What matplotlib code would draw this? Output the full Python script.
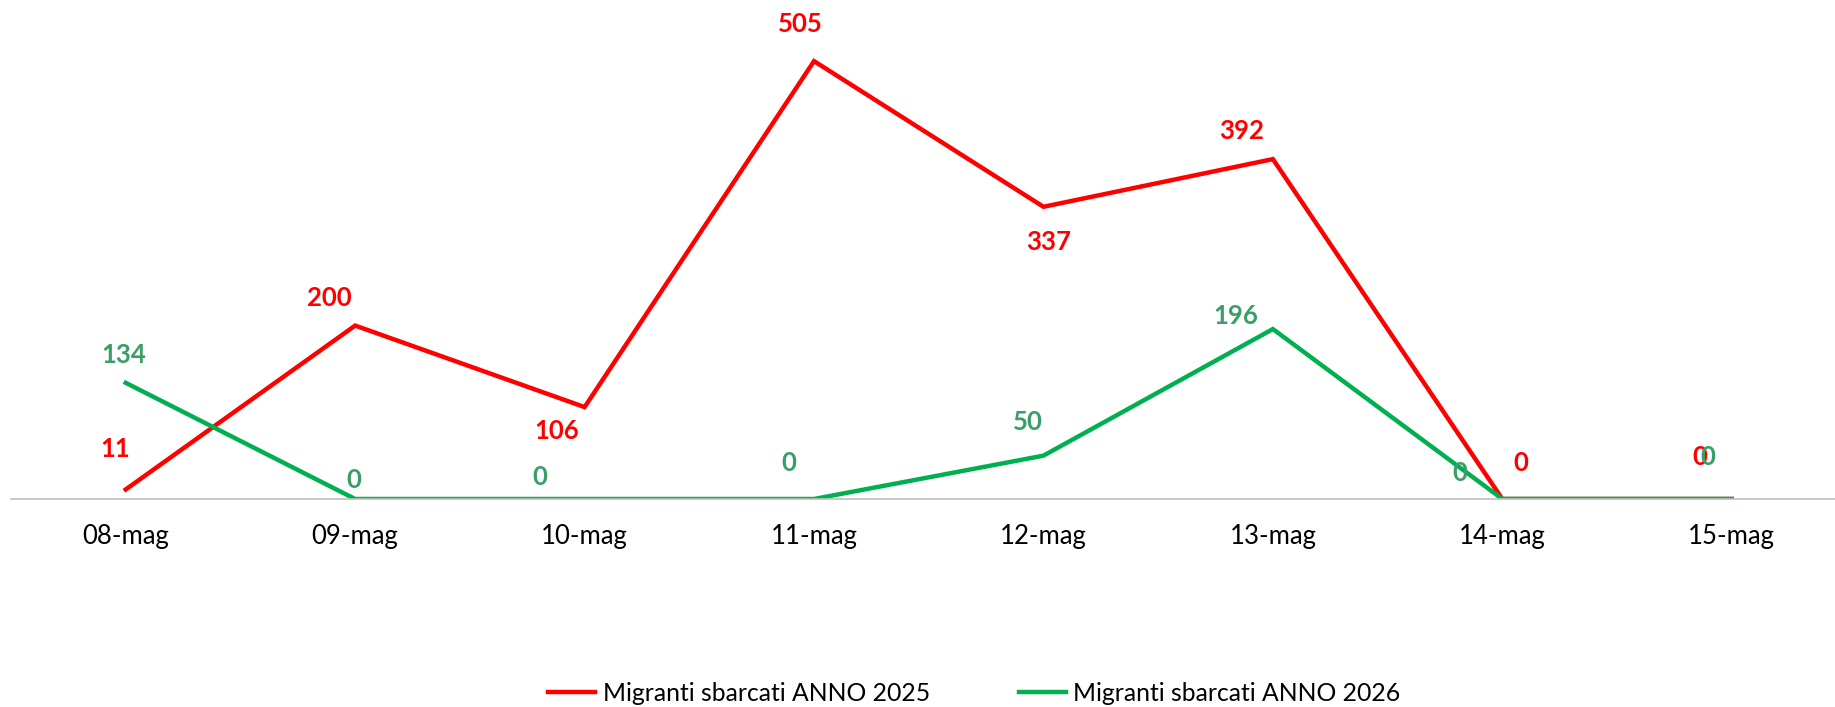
import matplotlib.pyplot as plt

# dati
giorni = ["08-mag", "09-mag", "10-mag", "11-mag", "12-mag", "13-mag", "14-mag", "15-mag"]
anno_2025 = [11, 200, 106, 505, 337, 392, 0, 0]
anno_2026 = [134, 0, 0, 0, 50, 196, 0, 0]

# spostamento etichette (pixel)
off_2025 = [(-11, 40), (-26, 28), (-28, -24), (-14, 37), (5, -35), (-31, 28), (18, 36), (-32, 42)]
off_2026 = [(-2, 28), (-1, 19), (-45, 22), (-25, 36), (-16, 34), (-37, 13), (-43, 26), (-24, 42)]

plt.rcParams['font.family'] = ['Lato', 'DejaVu Sans']

fig = plt.figure(figsize=(18.35, 7.07), dpi=100)
ax = fig.add_axes([0.006, 0.2942, 0.994, 0.7058])

x = list(range(len(giorni)))
ax.plot(x, anno_2025, color="#FF0000", lw=3.2, label="Migranti sbarcati ANNO 2025", solid_joinstyle="miter")
ax.plot(x, anno_2026, color="#00B050", lw=3.2, label="Migranti sbarcati ANNO 2026", solid_joinstyle="miter")

for i, v in enumerate(anno_2025):
    ax.annotate(str(v), (i, v), xytext=off_2025[i], textcoords="offset pixels",
                ha="center", va="center", color="#FF0000", fontsize=18.5, fontweight="bold")
for i, v in enumerate(anno_2026):
    ax.annotate(str(v), (i, v), xytext=off_2026[i], textcoords="offset pixels",
                ha="center", va="center", color="#3A9E68", fontsize=18.5, fontweight="bold")

ax.set_xlim(-0.5, 7.45)
ax.set_ylim(0, 575.5)
ax.set_xticks(x)
ax.set_xticklabels(giorni, fontsize=18.5)
ax.set_yticks([])
ax.tick_params(axis="x", length=0, pad=18)
for s in ["top", "left", "right"]:
    ax.spines[s].set_visible(False)
ax.spines["bottom"].set_color("#BFBFBF")
ax.spines["bottom"].set_linewidth(1.2)

fig.legend(loc="center", bbox_to_anchor=(0.531, 0.019), ncol=2, frameon=False, fontsize=17.8,
           handlelength=1.9, handletextpad=0.3, columnspacing=3.6)

plt.savefig("out.png", dpi=100)
